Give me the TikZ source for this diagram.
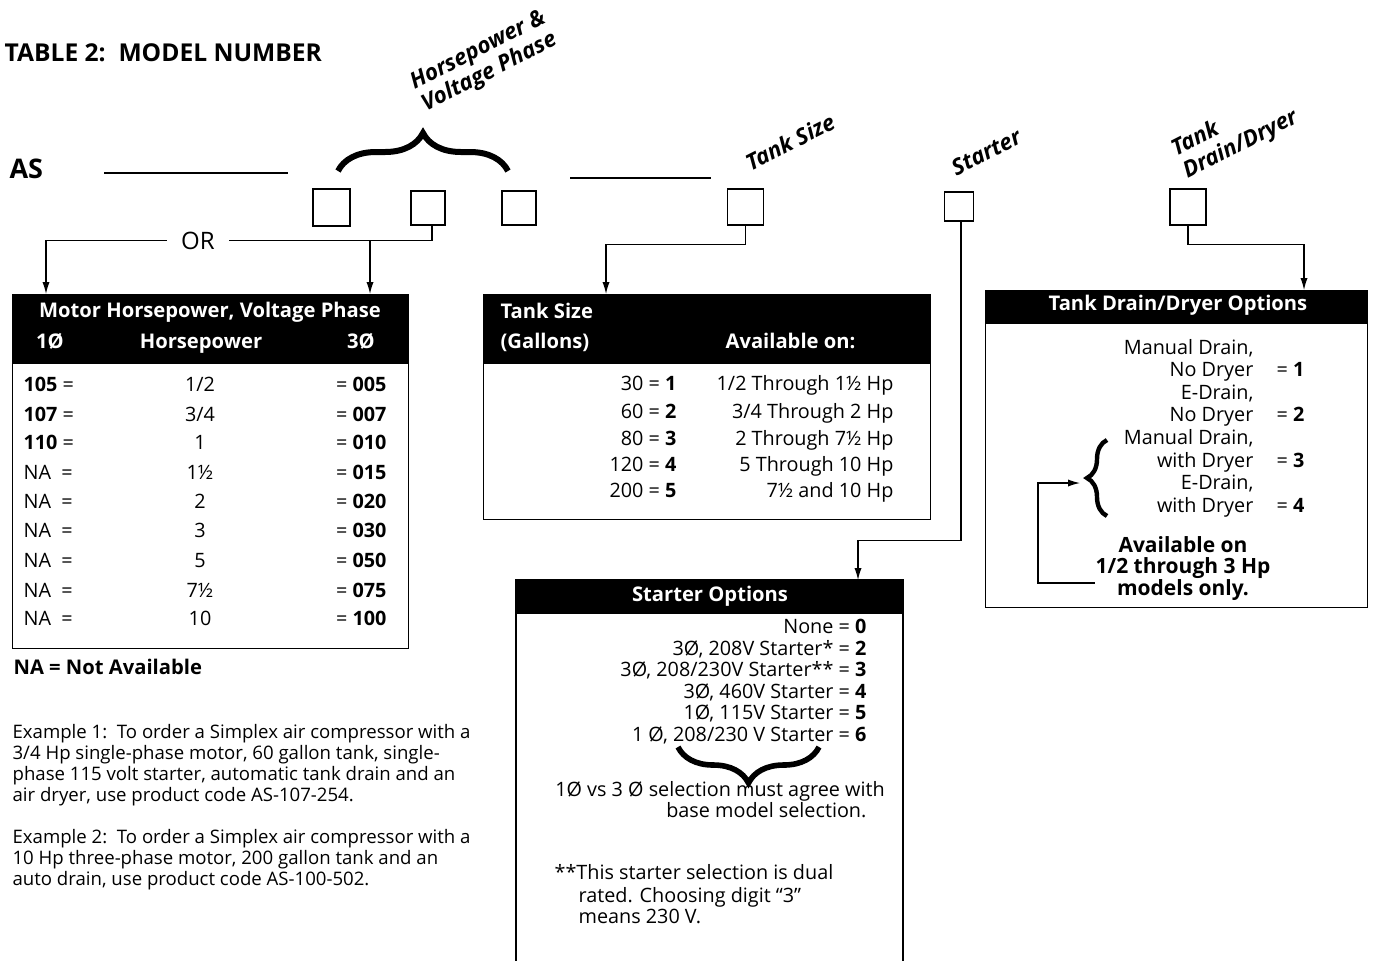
\documentclass[tikz,border=0pt]{standalone}
\usepackage{fontspec}
\setmainfont{Open Sans}
\usetikzlibrary{arrows.meta,decorations.pathreplacing}

\tikzset{
  txt/.style={inner sep=0pt, anchor=mid, font=\fontsize{9.9}{11}\selectfont},
  bt/.style={txt, font=\fontsize{10.5}{11}\selectfont\bfseries},
  hd/.style={txt, text=white, font=\fontsize{10.1}{11}\selectfont\bfseries},
  hdbar/.style={fill=black, draw=black, inner sep=0pt, anchor=north west},
  frame/.style={draw, line width=0.6pt, inner sep=0pt, anchor=north west},
  digit/.style={draw, line width=0.6pt, inner sep=0pt, minimum size=#1},
  lbl/.style={inner sep=0pt, rotate=27, font=\fontsize{11.2}{12.5}\selectfont\bfseries\itshape},
  ex/.style={inner sep=0pt, anchor=north west, align=left, font=\fontsize{9.3}{10.5}\selectfont},
  arr/.style={-{Latex[length=6pt,width=3.6pt]}, line width=0.6pt},
  brc/.style={decorate, decoration={brace, amplitude=#1}, line width=2.8pt},
}

\begin{document}
\begin{tikzpicture}[x=0.5pt,y=-0.5pt, line width=0.6pt]
\useasboundingbox (0,0) rectangle (1374,960);

% title and model code line
\node[txt, anchor=mid west, font=\fontsize{12.3}{14}\selectfont\bfseries] (title) at (4,56) {TABLE 2:\ \ MODEL NUMBER};
\node[txt, anchor=mid west, font=\fontsize{13.5}{15}\selectfont\bfseries] (as) at (9,173) {AS};
\draw (104,173) -- (288,173);
\draw (570,178) -- (711,178);

\node[digit=18.5pt] (hp1) at (331.5,207.5) {};
\node[digit=17pt] (hp2) at (428,208) {};
\node[digit=17pt] (hp3) at (519,208) {};
\node[digit=18pt] (tsz) at (745.5,207) {};
\node[digit=14.5pt] (st) at (959,206.5) {};
\node[digit=18pt] (dd) at (1188,207) {};

\draw[brc=19pt, line width=3pt] (338,171) -- (508,171);
\node[lbl, align=center] (hplbl) at (484,62) {Horsepower \&\\Voltage Phase};
\node[lbl] (tslbl) at (790,142) {Tank Size};
\node[lbl] (stlbl) at (986,152) {Starter};
\node[lbl, align=left] (ddlbl) at (1235,134) {Tank\\Drain/Dryer};

% connectors
\node[txt, inner sep=7pt, font=\fontsize{12}{13}\selectfont] (or) at (198,244) {OR};
\coordinate (m1) at (46,294);
\coordinate (m2) at (370,294);
\draw[arr] ([xshift=2pt]hp2.south) |- (m2 |- or) -- (m2);
\draw (m2 |- or) -- (or.east);
\draw[arr] (or.west) -| (m1);

\coordinate (t1) at (606,294);
\draw[arr] (tsz.south) -- ++(0,19) -| (t1);

\coordinate (s1) at (858,580);
\draw[arr] ([xshift=1pt]st.south) -- ++(0,319) -| (s1);

\coordinate (d1) at (1304,290);
\draw[arr] (dd.south) -- ++(0,19) -| (d1);

% motor table
\node[frame, minimum width=198pt, minimum height=177pt] (mtab) at (12,294) {};
\node[hdbar, minimum width=198pt, minimum height=34.5pt] (mhd) at (12,294) {};
\node[hd] (mh1) at (210,312) {Motor Horsepower, Voltage Phase};
\node[hd] (mh2) at (50,343) {1Ø};
\node[hd] (mh3) at (201,343) {Horsepower};
\node[hd] (mh4) at (361,343) {3Ø};
\foreach \y/\l/\h/\r [count=\i] in {386/{\textbf{105} =}/{1/2}/005, 416/{\textbf{107} =}/{3/4}/007,
    444/{\textbf{110} =}/1/010, 474/{NA\ \ =}/1½/015, 503/{NA\ \ =}/2/020, 532/{NA\ \ =}/3/030,
    562/{NA\ \ =}/5/050, 592/{NA\ \ =}/7½/075, 620/{NA\ \ =}/10/100}
{
  \node[txt, anchor=mid west] (ml\i) at (23,\y) {\l};
  \node[txt] (mc\i) at (200,\y) {\h};
  \node[txt, anchor=mid east] (mr\i) at (387,\y) {= \textbf{\r}};
}
\node[bt, anchor=mid west, font=\fontsize{10.1}{11}\selectfont\bfseries] (na) at (13,669) {NA = Not Available};

% examples
\node[ex] (ex1) at (12,724) {Example 1:\ \ To order a Simplex air compressor with a\\3/4 Hp single-phase motor, 60 gallon tank, single-\\phase 115 volt starter, automatic tank drain and an\\air dryer, use product code AS-107-254.};
\node[ex] (ex2) at (12,829) {Example 2:\ \ To order a Simplex air compressor with a\\10 Hp three-phase motor, 200 gallon tank and an\\auto drain, use product code AS-100-502.};

% tank size table
\node[frame, minimum width=223.5pt, minimum height=112.5pt] (ttab) at (483,294) {};
\node[hdbar, minimum width=223.5pt, minimum height=34.5pt] (thd) at (483,294) {};
\node[hd, anchor=mid west] (th1) at (500,313) {Tank Size};
\node[hd, anchor=mid west] (th2) at (500,343) {(Gallons)};
\node[hd, anchor=mid east] (th3) at (856,343) {Available on:};
\foreach \y/\g/\n/\a [count=\i] in {385/30/1/{1/2 Through 1½ Hp}, 413/60/2/{3/4 Through 2 Hp},
    440/80/3/{2 Through 7½ Hp}, 466/120/4/{5 Through 10 Hp}, 492/200/5/{7½ and 10 Hp}}
{
  \node[txt, anchor=mid east] (tg\i) at (677,\y) {\g{} = \textbf{\n}};
  \node[txt, anchor=mid east] (ta\i) at (894,\y) {\a};
}

% starter table
\draw (516,962) -- (516,580) -- (903,580) -- (903,962);
\node[hdbar, minimum width=193.5pt, minimum height=16.5pt] (shd) at (516,580) {};
\node[hd] (sh1) at (710,596) {Starter Options};
\foreach \y/\s [count=\i] in {628/{None = \textbf{0}}, 650/{3Ø, 208V Starter* = \textbf{2}},
    671/{3Ø, 208/230V Starter** = \textbf{3}}, 693/{3Ø, 460V Starter = \textbf{4}},
    714/{1Ø, 115V Starter = \textbf{5}}, 736/{1 Ø, 208/230 V Starter = \textbf{6}}}
{
  \node[txt, anchor=mid east] (sr\i) at (867,\y) {\s};
}
\draw[brc=18pt] (819,747) -- (678,747);
\node[txt] (sn1) at (720,791) {1Ø vs 3 Ø selection must agree with};
\node[txt, anchor=mid east] (sn2) at (867,812) {base model selection.};
\node[txt, anchor=mid west] (sf1) at (554,874) {**This starter selection is dual};
\node[txt, anchor=mid west] (sf2) at (578,897) {rated. Choosing digit “3”};
\node[txt, anchor=mid west] (sf3) at (578,918) {means 230 V.};

% drain / dryer table
\node[frame, minimum width=191pt, minimum height=158.5pt] (dtab) at (985,290) {};
\node[hdbar, minimum width=191pt, minimum height=16.5pt] (dhd) at (985,290) {};
\node[hd] (dh1) at (1178,305) {Tank Drain/Dryer Options};
\foreach \y/\s [count=\i] in {349/{Manual Drain,}, 371/No Dryer, 394/{E-Drain,}, 416/No Dryer,
    439/{Manual Drain,}, 462/with Dryer, 484/{E-Drain,}, 507/with Dryer}
{
  \node[txt, anchor=mid east] (dr\i) at (1254,\y) {\s};
}
\foreach \y/\n [count=\i] in {371/1, 416/2, 462/3, 507/4}
{
  \node[txt, anchor=mid east] (dn\i) at (1305,\y) {= \textbf{\n}};
}
\draw[brc=10pt, line width=2.2pt] (1107,516) -- (1107,440);
\node[bt] (av1) at (1183,547) {Available on};
\node[bt] (av2) at (1183,568) {1/2 through 3 Hp};
\node[bt] (av3) at (1183,590) {models only.};
\coordinate (dbk) at (1038,483);
\coordinate (dtip) at (1080,483);
\draw[arr] ([yshift=-2pt]av2.south west) -| (dbk) -- (dtip);

\end{tikzpicture}
\end{document}
